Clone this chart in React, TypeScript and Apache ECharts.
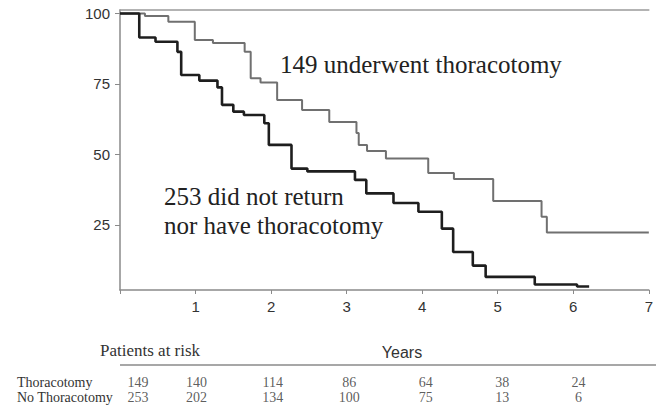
import React, { useEffect, useRef } from "react";
import * as echarts from "echarts";

// Kaplan-Meier curves (years, % surviving)
const thorTimes = [0, 0.33, 0.64, 0.99, 1.23, 1.65, 1.73, 1.86, 2.08, 2.41, 2.77, 3.13, 3.16, 3.27, 3.52, 4.08, 4.42, 4.94, 5.58, 5.65, 7.0];
const thorSurv = [100, 99.1, 97.1, 90.6, 89.5, 86.4, 77.0, 75.5, 69.3, 65.8, 61.5, 57.6, 53.4, 51.2, 48.6, 43.4, 41.3, 33.5, 27.9, 22.3, 22.3];

const noThorTimes = [0, 0.255, 0.47, 0.76, 0.81, 1.05, 1.29, 1.35, 1.5, 1.64, 1.91, 1.97, 2.27, 2.48, 3.11, 3.26, 3.62, 3.95, 4.26, 4.41, 4.67, 4.84, 5.49, 6.05, 6.21];
const noThorSurv = [100, 91.5, 90.0, 86.4, 78.2, 76.2, 73.8, 67.6, 65.2, 64.0, 61.1, 53.4, 45.0, 44.0, 41.0, 36.2, 32.8, 29.7, 23.7, 15.4, 10.6, 6.6, 3.9, 3.2, 3.2];

const yTicks = [25, 50, 75, 100];

// Patients at risk table
const riskGroups = ["Thoracotomy", "No Thoracotomy"];
const riskTimes = [0, 1, 2, 3, 4, 5, 6];
const atRiskThor = [149, 140, 114, 86, 64, 38, 24];
const atRiskNoThor = [253, 202, 134, 100, 75, 13, 6];

const AXIS = "#8a8a8a";
const SERIF = "'Liberation Serif', 'Times New Roman', serif";
const SANS = "'Liberation Sans', Arial, sans-serif";

export default function App() {
  const ref = useRef<HTMLDivElement>(null);
  useEffect(() => {
    if (!ref.current) return;
    const chart = echarts.init(ref.current, null, { renderer: "svg" });
    const riskData: any[] = [];
    [atRiskThor, atRiskNoThor].forEach((arr, r) => {
      arr.forEach((n, i) => {
        const item: any = { value: [riskTimes[i], riskGroups[r], n] };
        if (i === 0) item.label = { offset: [18, 0] };
        riskData.push(item);
      });
    });
    chart.setOption({
      animation: false,
      backgroundColor: "#ffffff",
      grid: [
        { left: 120, right: 1, top: 10, bottom: 122 },
        { left: 120, right: 1, top: 374.5, height: 30 },
      ],
      xAxis: [
        {
          gridIndex: 0,
          type: "value",
          min: 0,
          max: 7,
          interval: 1,
          axisLine: { show: true, onZero: false, lineStyle: { color: AXIS, width: 1.5 } },
          axisTick: { show: true, length: 4, lineStyle: { color: AXIS } },
          axisLabel: {
            color: "#333",
            fontSize: 15,
            fontFamily: SANS,
            margin: 9,
            showMaxLabel: true,
            formatter: (v: number) => (v === 0 ? "" : String(v)),
          },
          splitLine: { show: false },
        },
        {
          gridIndex: 0,
          type: "value",
          position: "top",
          min: 0,
          max: 7,
          axisLine: { show: true, onZero: false, lineStyle: { color: "#9a9a9a", width: 1.5 } },
          axisTick: { show: false },
          axisLabel: { show: false },
          splitLine: { show: false },
        },
        { gridIndex: 1, type: "value", min: 0, max: 7, show: false },
      ],
      yAxis: [
        {
          gridIndex: 0,
          type: "value",
          min: 1.95,
          max: 101.24,
          axisLine: { show: true, onZero: false, lineStyle: { color: AXIS, width: 1.5 } },
          axisTick: { show: true, length: 5, customValues: yTicks, lineStyle: { color: AXIS } },
          axisLabel: { customValues: yTicks, color: "#333", fontSize: 15, fontFamily: SANS, margin: 10 },
          splitLine: { show: false },
        },
        { gridIndex: 1, type: "category", data: riskGroups, inverse: true, show: false },
      ],
      series: [
        {
          type: "line",
          name: "Thoracotomy",
          xAxisIndex: 0,
          yAxisIndex: 0,
          step: "end",
          symbol: "none",
          data: thorTimes.map((t, i) => [t, thorSurv[i]]),
          lineStyle: { color: "#707070", width: 2 },
        },
        {
          type: "line",
          name: "No Thoracotomy",
          xAxisIndex: 0,
          yAxisIndex: 0,
          step: "end",
          symbol: "none",
          data: noThorTimes.map((t, i) => [t, noThorSurv[i]]),
          lineStyle: { color: "#1e1e1e", width: 2.6 },
        },
        {
          type: "scatter",
          xAxisIndex: 2,
          yAxisIndex: 1,
          symbolSize: 1,
          itemStyle: { color: "rgba(0,0,0,0)" },
          data: riskData,
          label: {
            show: true,
            position: "inside",
            formatter: (p: any) => String(p.value[2]),
            fontFamily: SERIF,
            fontSize: 14,
            color: "#333",
          },
        },
      ],
      graphic: [
        {
          type: "text",
          left: 280,
          top: 52,
          style: { text: "149 underwent thoracotomy", font: `25px ${SERIF}`, fill: "#222" },
        },
        {
          type: "text",
          left: 164,
          top: 184,
          style: { text: "253 did not return", font: `25px ${SERIF}`, fill: "#222" },
        },
        {
          type: "text",
          left: 164,
          top: 213,
          style: { text: "nor have thoracotomy", font: `25px ${SERIF}`, fill: "#222" },
        },
        {
          type: "text",
          x: 402,
          y: 352,
          style: { text: "Years", font: `16px ${SANS}`, fill: "#333", align: "center", verticalAlign: "middle" },
        },
        {
          type: "text",
          x: 100,
          y: 350,
          style: { text: "Patients at risk", font: `17px ${SERIF}`, fill: "#333", align: "left", verticalAlign: "middle" },
        },
        {
          type: "line",
          shape: { x1: 120, y1: 365, x2: 656, y2: 365 },
          style: { stroke: AXIS, lineWidth: 1.5 },
        },
        {
          type: "text",
          x: 17,
          y: 382,
          style: { text: riskGroups[0], font: `14px ${SERIF}`, fill: "#333", align: "left", verticalAlign: "middle" },
        },
        {
          type: "text",
          x: 17,
          y: 397,
          style: { text: riskGroups[1], font: `14px ${SERIF}`, fill: "#333", align: "left", verticalAlign: "middle" },
        },
      ],
    });
    return () => chart.dispose();
  }, []);
  return (
    <div
      ref={ref}
      style={{ position: "fixed", left: 0, top: 0, width: 656, height: 412, background: "#fff" }}
    />
  );
}
